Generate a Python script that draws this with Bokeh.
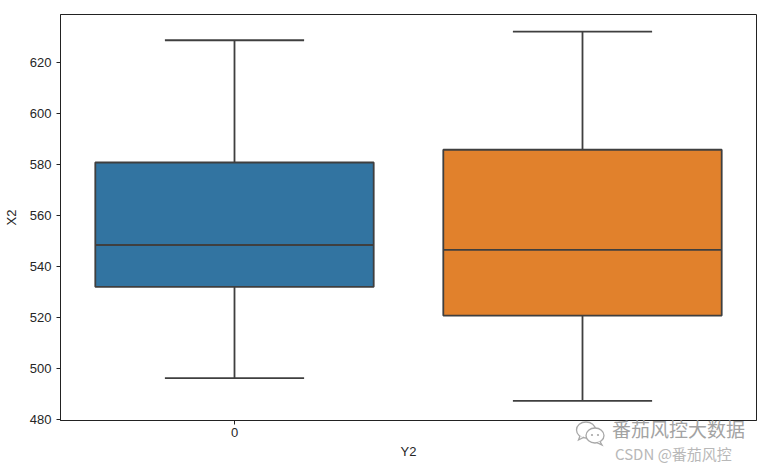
from bokeh.plotting import figure
from bokeh.models import FixedTicker, Range1d, Div
from bokeh.layouts import column
from bokeh.embed import file_html
from bokeh.resources import INLINE

# Data
categories = ["0", "1"]
xpos = [0, 1]
whisker_low = [496.2, 487.3]
q1 = [532.1, 520.8]
median = [548.5, 546.6]
q3 = [580.9, 585.9]
whisker_high = [628.9, 632.3]
colors = ["#3274a1", "#e1812c"]
y_ticks = [480, 500, 520, 540, 560, 580, 600, 620]
shown_x_ticks = [0]  # the "1" tick is hidden under the watermark in the reference
watermark_1 = "番茄风控大数据"
watermark_2 = "CSDN @番茄风控"

FONT = "Liberation Sans"
LINE = "#3f3f3f"

p = figure(width=761, height=461, output_backend="svg", toolbar_location=None,
           x_range=Range1d(-0.5, 1.5), y_range=Range1d(479.6, 639.0),
           min_border_left=59, min_border_right=5, min_border_top=14, min_border_bottom=39)

p.xgrid.visible = False
p.ygrid.visible = False
p.outline_line_color = "#222222"
p.outline_line_width = 1
p.background_fill_color = "white"
p.border_fill_color = "white"

box_w = 0.8
cap_w = 0.4

# whiskers
p.segment(x0=xpos, y0=q3, x1=xpos, y1=whisker_high, line_color=LINE, line_width=1.8)
p.segment(x0=xpos, y0=whisker_low, x1=xpos, y1=q1, line_color=LINE, line_width=1.8)
# caps
p.segment(x0=[x - cap_w / 2 for x in xpos], y0=whisker_high,
          x1=[x + cap_w / 2 for x in xpos], y1=whisker_high, line_color=LINE, line_width=1.8)
p.segment(x0=[x - cap_w / 2 for x in xpos], y0=whisker_low,
          x1=[x + cap_w / 2 for x in xpos], y1=whisker_low, line_color=LINE, line_width=1.8)
# boxes
p.vbar(x=xpos, width=box_w, bottom=q1, top=q3, fill_color=colors,
       line_color=LINE, line_width=1.8)
# medians
p.segment(x0=[x - box_w / 2 for x in xpos], y0=median,
          x1=[x + box_w / 2 for x in xpos], y1=median, line_color=LINE, line_width=1.8)

# axes
p.xaxis.ticker = FixedTicker(ticks=shown_x_ticks)
p.xaxis.major_label_overrides = {x: c for x, c in zip(xpos, categories)}
p.yaxis.ticker = FixedTicker(ticks=y_ticks)
p.xaxis.axis_label = "Y2"
p.yaxis.axis_label = "X2"
for ax in (p.xaxis[0], p.yaxis[0]):
    ax.axis_line_color = "#222222"
    ax.major_tick_line_color = "#222222"
    ax.major_tick_out = 4
    ax.major_tick_in = 0
    ax.minor_tick_line_color = None
    ax.major_label_text_font = FONT
    ax.major_label_text_font_size = "13px"
    ax.major_label_text_color = "#262626"
    ax.axis_label_text_font = FONT
    ax.axis_label_text_font_size = "13px"
    ax.axis_label_text_font_style = "normal"
    ax.axis_label_text_color = "#262626"
p.yaxis.major_label_standoff = 5
p.yaxis.axis_label_standoff = 8
p.xaxis.major_label_standoff = 3
p.xaxis.axis_label_standoff = 4

# watermark, overlapping the bottom-right corner of the figure
icon = (
    '<svg width="32" height="28" viewBox="0 0 32 28" style="position:absolute;left:0;top:0">'
    '<ellipse cx="11" cy="10" rx="9.5" ry="8" fill="white" stroke="#a8a8a8" stroke-width="1.3"/>'
    '<path d="M5 16 L3.5 20 L9 17.2" fill="white" stroke="#a8a8a8" stroke-width="1.3"/>'
    '<ellipse cx="20" cy="15.5" rx="9" ry="7.5" fill="white" stroke="#a8a8a8" stroke-width="1.3"/>'
    '<path d="M25 21.5 L27 25 L22 22.6" fill="white" stroke="#a8a8a8" stroke-width="1.3"/>'
    '<circle cx="17" cy="15" r="1.1" fill="#a8a8a8"/>'
    '<circle cx="23" cy="15" r="1.1" fill="#a8a8a8"/>'
    '</svg>'
)
wm_html = (
    '<div style="position:relative;width:190px;height:44px;font-family:\'Noto Sans CJK SC\',sans-serif;">'
    + icon +
    '<span style="position:absolute;left:37px;top:-1px;font-size:19px;line-height:19px;color:#a3a3a3;'
    'white-space:nowrap">' + watermark_1 + '</span>'
    '<span style="position:absolute;left:40px;top:26px;font-size:15px;line-height:15px;color:#b8b8b8;'
    'white-space:nowrap">' + watermark_2 + '</span>'
    '</div>'
)
wm = Div(text=wm_html, width=190, height=44, margin=(-41, 0, 0, 575))

layout = column(p, wm)
open("out.html", "w").write(file_html(layout, INLINE))
